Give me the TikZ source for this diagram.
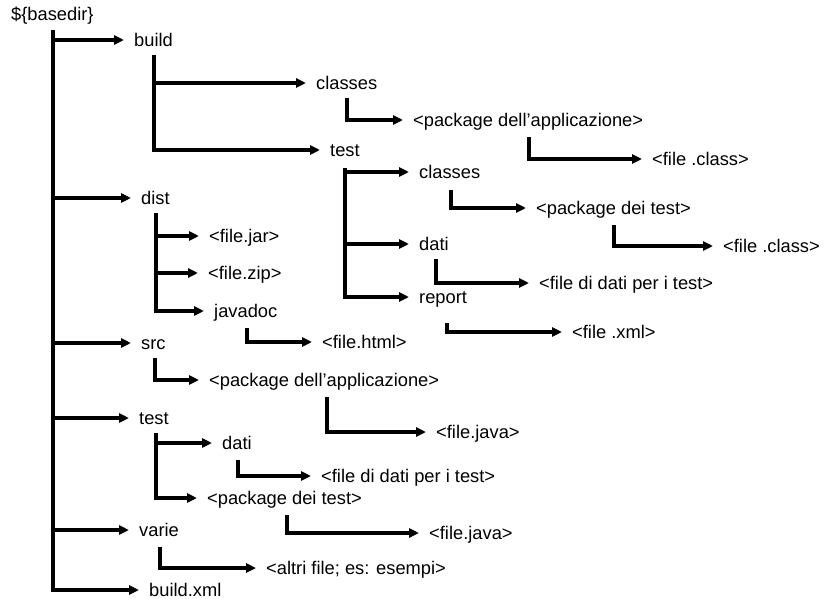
\documentclass[tikz,border=0pt]{standalone}
\usepackage{fontspec}
\setmainfont{Liberation Sans}
\usetikzlibrary{arrows.meta}
\begin{document}
\begin{tikzpicture}[x=1pt,y=-1pt,
  lbl/.style={anchor=west,inner sep=0pt,text height=13pt,text depth=0pt,
    font=\fontsize{18.3}{22}\selectfont},
  conn/.style={line width=3.3pt,line join=miter},
  arr/.style={conn,-{Triangle[length=10pt,width=9pt]},shorten >=10pt}]
\useasboundingbox (0,0) rectangle (830,599);
% nodes
\node[lbl] (basedir) at (11,14) {\$\{basedir\}};
\node[lbl] (build) at (134,40) {build};
\node[lbl] (bclasses) at (316,83) {classes};
\node[lbl] (bpkg) at (413,120) {<package dell’applicazione>};
\node[lbl] (bfileclass) at (652,159) {<file .class>};
\node[lbl] (btest) at (330,150) {test};
\node[lbl] (tclasses) at (419,172) {classes};
\node[lbl] (tpdt) at (536,208) {<package dei test>};
\node[lbl] (tfileclass) at (723,246) {<file .class>};
\node[lbl] (tdati) at (419,244) {dati};
\node[lbl] (tfdd) at (539,283) {<file di dati per i test>};
\node[lbl] (treport) at (419,297) {report};
\node[lbl] (txml) at (572,332) {<file .xml>};
\node[lbl] (dist) at (141,198) {dist};
\node[lbl] (jar) at (209,236) {<file.jar>};
\node[lbl] (zip) at (208,273) {<file.zip>};
\node[lbl] (javadoc) at (214,311) {javadoc};
\node[lbl] (html) at (322,342) {<file.html>};
\node[lbl] (src) at (141,343) {src};
\node[lbl] (spkg) at (209,380) {<package dell’applicazione>};
\node[lbl] (sjava) at (436,432) {<file.java>};
\node[lbl] (test) at (139,418) {test};
\node[lbl] (ddati) at (222,443) {dati};
\node[lbl] (dfdd) at (321,476) {<file di dati per i test>};
\node[lbl] (dpdt) at (207,498) {<package dei test>};
\node[lbl] (djava) at (429,533) {<file.java>};
\node[lbl] (varie) at (139,530) {varie};
\node[lbl] (altri) at (266,568) {<altri file; es: esempi>};
\node[lbl] (buildxml) at (149,590) {build.xml};
% vertical tops
\coordinate (vroot) at (53,30);
\coordinate (vbuild) at (154,55);
\coordinate (vbclasses) at (347,98);
\coordinate (vbpkg) at (529,137);
\coordinate (vbtest) at (345,168);
\coordinate (vtclasses) at (451,190);
\coordinate (vtpdt) at (614,225);
\coordinate (vtdati) at (436,259);
\coordinate (vtreport) at (447,323);
\coordinate (vdist) at (156,213);
\coordinate (vjavadoc) at (247,328);
\coordinate (vsrc) at (155,358);
\coordinate (vspkg) at (327,397);
\coordinate (vtest) at (156,433);
\coordinate (vddati) at (238,460);
\coordinate (vdpdt) at (287,515);
\coordinate (vvarie) at (160,547);
% root
\draw[arr,line width=3.8pt] (vroot) |- (buildxml.west);
\foreach \c in {build,dist,src,test,varie}
  \draw[arr] (vroot |- \c.west) -- (\c.west);
% build
\draw[arr] (vbuild) |- (btest.west);
\draw[arr] (vbuild |- bclasses.west) -- (bclasses.west);
\draw[arr] (vbclasses) |- (bpkg.west);
\draw[arr] (vbpkg) |- (bfileclass.west);
\draw[arr] (vbtest) |- (treport.west);
\draw[arr] (vbtest |- tclasses.west) -- (tclasses.west);
\draw[arr] (vbtest |- tdati.west) -- (tdati.west);
\draw[arr] (vtclasses) |- (tpdt.west);
\draw[arr] (vtpdt) |- (tfileclass.west);
\draw[arr] (vtdati) |- (tfdd.west);
\draw[arr] (vtreport) |- (txml.west);
% dist
\draw[arr] (vdist) |- (javadoc.west);
\draw[arr] (vdist |- jar.west) -- (jar.west);
\draw[arr] (vdist |- zip.west) -- (zip.west);
\draw[arr] (vjavadoc) |- (html.west);
% src
\draw[arr] (vsrc) |- (spkg.west);
\draw[arr] (vspkg) |- (sjava.west);
% test
\draw[arr] (vtest) |- (dpdt.west);
\draw[arr] (vtest |- ddati.west) -- (ddati.west);
\draw[arr] (vddati) |- (dfdd.west);
\draw[arr] (vdpdt) |- (djava.west);
% varie
\draw[arr] (vvarie) |- (altri.west);
\end{tikzpicture}
\end{document}
